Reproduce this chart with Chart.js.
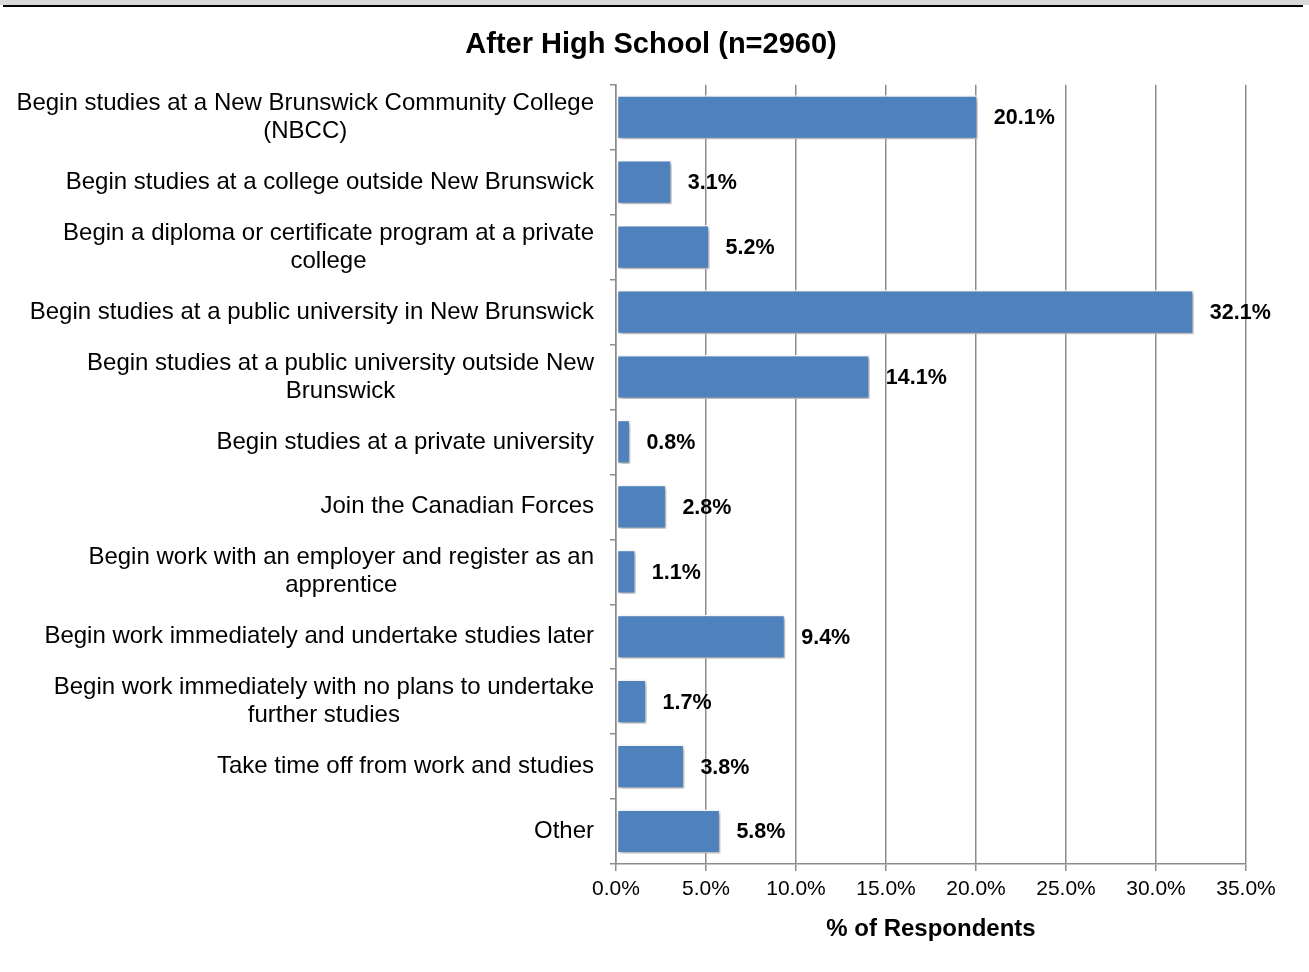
<!DOCTYPE html>
<html>
<head>
<meta charset="utf-8">
<script src="https://cdn.jsdelivr.net/npm/chart.js@4.4.0/dist/chart.umd.min.js"></script>
<style>
  html, body { margin: 0; padding: 0; background: #fff; }
  .topband { position: absolute; left: 0; top: 0; width: 1309px; height: 5px; background: #d9d9d9; }
  .topline { position: absolute; left: 3px; top: 5px; width: 1300px; height: 2px; background: #000; }
  .wrap { position: absolute; left: 0; top: 0; width: 1309px; height: 972px; }
</style>
</head>
<body>
<div class="wrap"><canvas id="afterChart" width="1309" height="972"></canvas></div>
<div class="topband"></div>
<div class="topline"></div>
<script>
// Survey answers (label lines as in the original)
const categories = [
  ["Begin studies at a New Brunswick Community College", "(NBCC)"],
  ["Begin studies at a college outside New Brunswick"],
  ["Begin a diploma or certificate program at a private", "college"],
  ["Begin studies at a public university in New Brunswick"],
  ["Begin studies at a public university outside New", "Brunswick"],
  ["Begin studies at a private university"],
  ["Join the Canadian Forces"],
  ["Begin work with an employer and register as an", "apprentice"],
  ["Begin work immediately and undertake studies later"],
  ["Begin work immediately with no plans to undertake", "further studies"],
  ["Take time off from work and studies"],
  ["Other"]
];
const percents = [20.1, 3.1, 5.2, 32.1, 14.1, 0.8, 2.8, 1.1, 9.4, 1.7, 3.8, 5.8];
const xTicks = [0, 5, 10, 15, 20, 25, 30, 35];
const chartTitle = "After High School (n=2960)";

const FONT = "Arial, 'Liberation Sans', sans-serif";
const GRID = "#8c8c8c";

// bar shadow
const shadowPlugin = {
  id: "barShadow",
  beforeDatasetsDraw(chart) {
    const c = chart.ctx;
    c.save();
    c.shadowColor = "rgba(0,0,0,0.35)";
    c.shadowBlur = 4;
    c.shadowOffsetX = 2;
    c.shadowOffsetY = 2;
  },
  afterDatasetsDraw(chart) {
    chart.ctx.restore();
  }
};

// category labels: block right aligned, lines centred to each other
const catLabels = {
  id: "catLabels",
  afterDraw(chart) {
    const c = chart.ctx;
    const y = chart.scales.y;
    c.save();
    c.font = "24px " + FONT;
    c.fillStyle = "#000";
    c.textBaseline = "middle";
    c.textAlign = "center";
    const right = y.right - 22;
    categories.forEach(function (lines, i) {
      const yc = y.getPixelForTick(i);
      const widest = Math.max.apply(null, lines.map(function (l) { return c.measureText(l).width; }));
      const cx = right - widest / 2;
      const lh = 28;
      const y0 = yc - (lines.length - 1) * lh / 2;
      lines.forEach(function (l, k) { c.fillText(l, cx, y0 + k * lh); });
    });
    // title, centred on the whole picture
    c.font = "bold 29px " + FONT;
    c.fillText(chartTitle, 651, 45);
    c.restore();
  }
};

// value labels at bar ends
const valueLabels = {
  id: "valueLabels",
  afterDraw(chart) {
    const c = chart.ctx;
    const meta = chart.getDatasetMeta(0);
    c.save();
    c.font = "bold 21.5px " + FONT;
    c.fillStyle = "#000";
    c.textBaseline = "middle";
    c.textAlign = "left";
    meta.data.forEach(function (bar, i) {
      c.fillText(percents[i].toFixed(1) + "%", bar.x + 16, bar.y + 1);
    });
    c.restore();
  }
};

new Chart(document.getElementById("afterChart"), {
  type: "bar",
  data: {
    labels: categories.map(function (l) { return l.join(" "); }),
    datasets: [{
      data: percents,
      backgroundColor: "#4f81bd",
      borderColor: "#ffffff",
      borderWidth: 1.5,
      borderSkipped: false,
      categoryPercentage: 1,
      barPercentage: 0.68
    }]
  },
  options: {
    indexAxis: "y",
    responsive: false,
    animation: false,
    devicePixelRatio: 1,
    layout: { padding: { top: 27, right: 63, bottom: 28, left: 0 } },
    plugins: {
      legend: { display: false },
      tooltip: { enabled: false },
      title: {
        // keeps the space; the text itself is drawn by catLabels
        display: true,
        text: chartTitle,
        color: "transparent",
        font: { family: FONT, size: 29, weight: "bold" },
        padding: { top: 0, bottom: 23 }
      }
    },
    scales: {
      x: {
        min: 0,
        max: 35,
        afterBuildTicks(scale) { scale.ticks = xTicks.map(function (v) { return { value: v }; }); },
        ticks: {
          color: "#000",
          font: { family: FONT, size: 21 },
          padding: 6,
          callback: function (v) { return Number(v).toFixed(1) + "%"; }
        },
        grid: { color: GRID, lineWidth: 1.5, tickLength: 7 },
        border: { color: GRID, width: 1.5 },
        title: {
          display: true,
          text: "% of Respondents",
          color: "#000",
          font: { family: FONT, size: 24, weight: "bold" },
          padding: { top: 7, bottom: 0 }
        }
      },
      y: {
        afterFit(scale) { scale.width = 616; },
        ticks: { color: "transparent", font: { family: FONT, size: 20 } },
        grid: { drawOnChartArea: false, color: GRID, lineWidth: 1.5, tickLength: 6, offset: true },
        border: { color: GRID, width: 1.5 }
      }
    }
  },
  plugins: [shadowPlugin, catLabels, valueLabels]
});
</script>
</body>
</html>
